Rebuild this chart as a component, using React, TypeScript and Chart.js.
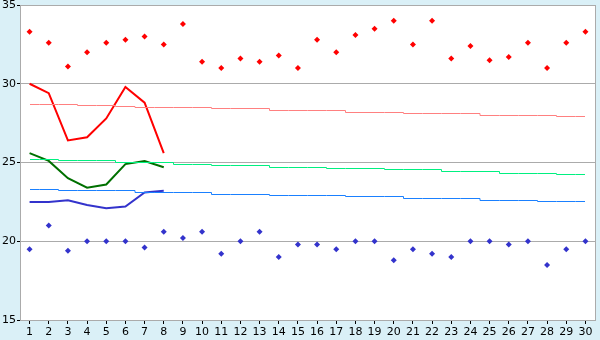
import React, { useEffect, useRef } from 'react';
import { Chart, registerables } from 'chart.js';

Chart.register(...registerables);

const days = ['1','2','3','4','5','6','7','8','9','10','11','12','13','14','15','16','17','18','19','20','21','22','23','24','25','26','27','28','29','30'];

const recordMax = [33.3, 32.6, 31.1, 32.0, 32.6, 32.8, 33.0, 32.5, 33.8, 31.4, 31.0, 31.6, 31.4, 31.8, 31.0, 32.8, 32.0, 33.1, 33.5, 34.0, 32.5, 34.0, 31.6, 32.4, 31.5, 31.7, 32.6, 31.0, 32.6, 33.3];
const recordMin = [19.5, 21.0, 19.4, 20.0, 20.0, 20.0, 19.6, 20.6, 20.2, 20.6, 19.2, 20.0, 20.6, 19.0, 19.8, 19.8, 19.5, 20.0, 20.0, 18.8, 19.5, 19.2, 19.0, 20.0, 20.0, 19.8, 20.0, 18.5, 19.5, 20.0];

const normalMax = [28.7, 28.7, 28.7, 28.63, 28.63, 28.56, 28.5, 28.5, 28.5, 28.5, 28.44, 28.44, 28.44, 28.31, 28.31, 28.31, 28.31, 28.19, 28.19, 28.19, 28.12, 28.12, 28.12, 28.12, 28.0, 28.0, 28.0, 28.0, 27.94, 27.94];
const normalMean = [25.22, 25.22, 25.13, 25.13, 25.13, 25.0, 25.0, 25.0, 24.87, 24.87, 24.81, 24.81, 24.81, 24.68, 24.68, 24.68, 24.63, 24.63, 24.63, 24.54, 24.54, 24.54, 24.45, 24.45, 24.45, 24.33, 24.33, 24.33, 24.24, 24.24];
const normalMin = [23.31, 23.31, 23.25, 23.25, 23.25, 23.25, 23.12, 23.12, 23.12, 23.12, 22.99, 22.99, 22.99, 22.93, 22.93, 22.93, 22.93, 22.82, 22.82, 22.82, 22.74, 22.74, 22.74, 22.74, 22.61, 22.61, 22.61, 22.55, 22.55, 22.55];

const actualMax = [30.0, 29.4, 26.4, 26.6, 27.8, 29.8, 28.8, 25.6];
const actualMean = [25.6, 25.1, 24.0, 23.4, 23.6, 24.9, 25.1, 24.7];
const actualMin = [22.5, 22.5, 22.6, 22.3, 22.1, 22.2, 23.1, 23.2];

const yTicks = [15, 20, 25, 30, 35];

const GRID = '#ababab';

const framePlugin = {
  id: 'frame',
  beforeDraw(chart: any) {
    const { ctx, chartArea, width, height } = chart;
    ctx.save();
    ctx.fillStyle = '#daf0f7';
    ctx.fillRect(0, 0, width, height);
    ctx.fillStyle = '#ffffff';
    ctx.fillRect(chartArea.left, chartArea.top, chartArea.right - chartArea.left, chartArea.bottom - chartArea.top);
    ctx.restore();
  },
  beforeDatasetDraw(chart: any, args: any) {
    const ds = chart.data.datasets[args.index];
    if (!ds || !ds.crisp) return;
    const meta = args.meta;
    meta.data.forEach((pt: any) => {
      pt.y = Math.round(pt.y - 0.5) + 0.5;
      pt.x = Math.round(pt.x);
    });
  },
  afterDraw(chart: any) {
    const { ctx, chartArea } = chart;
    ctx.save();
    ctx.strokeStyle = GRID;
    ctx.lineWidth = 1;
    ctx.beginPath();
    const x = Math.round(chartArea.right) + 0.5;
    ctx.moveTo(x, chartArea.top);
    ctx.lineTo(x, chartArea.bottom + 1);
    ctx.stroke();
    ctx.restore();
  },
};

export default function App() {
  const ref = useRef<HTMLCanvasElement | null>(null);
  useEffect(() => {
    document.body.style.margin = '0';
    if (!ref.current) return;
    const thin = (data: number[], color: string) => ({
      type: 'line' as const,
      data,
      borderColor: color,
      borderWidth: 1,
      pointRadius: 0,
      stepped: 'middle' as const,
      fill: false,
      crisp: true,
    });
    const thick = (data: number[], color: string) => ({
      type: 'line' as const,
      data,
      borderColor: color,
      borderWidth: 2,
      pointRadius: 0,
      tension: 0,
      fill: false,
    });
    const marks = (data: number[], color: string) => ({
      type: 'line' as const,
      data,
      showLine: false,
      pointStyle: 'rectRot' as const,
      pointRadius: 3,
      pointBorderWidth: 0,
      pointBackgroundColor: color,
      pointBorderColor: color,
      borderColor: color,
      backgroundColor: color,
    });
    const chart = new Chart(ref.current, {
      type: 'line',
      data: {
        labels: days,
        datasets: [
          thin(normalMax, '#ff8080'),
          thin(normalMean, '#00f080'),
          thin(normalMin, '#1a80ff'),
          thick(actualMax, '#ff0000'),
          thick(actualMean, '#007000'),
          thick(actualMin, '#3333cc'),
          marks(recordMax, '#ff0000'),
          marks(recordMin, '#3333cc'),
        ] as any,
      },
      plugins: [framePlugin],
      options: {
        animation: false,
        responsive: false,
        devicePixelRatio: 1,
        layout: { padding: { top: 5, right: 5, left: 0, bottom: 0 } },
        plugins: { legend: { display: false }, tooltip: { enabled: false } },
        scales: {
          x: {
            type: 'category',
            offset: true,
            grid: { offset: false, drawOnChartArea: false, drawTicks: true, tickLength: 4, tickColor: '#000000' },
            border: { color: GRID },
            ticks: { color: '#000000', font: { family: 'DejaVu Sans', size: 11 }, padding: 2, maxRotation: 0, autoSkip: false },
            afterFit: (s: any) => { s.height = 20; s.paddingLeft = 0; s.paddingRight = 0; },
          },
          y: {
            min: 15,
            max: 35,
            afterBuildTicks: (s: any) => { s.ticks = yTicks.map((v) => ({ value: v })); },
            grid: { color: GRID, tickLength: 3, tickColor: '#000000' },
            border: { color: GRID },
            ticks: { color: '#000000', font: { family: 'DejaVu Sans', size: 11 }, padding: 1 },
            afterFit: (s: any) => { s.width = 20; s.paddingTop = 0; s.paddingBottom = 0; },
          },
        },
      } as any,
    });
    return () => chart.destroy();
  }, []);
  return (
    <div style={{ width: 600, height: 340 }}>
      <canvas ref={ref} width={600} height={340} />
    </div>
  );
}
